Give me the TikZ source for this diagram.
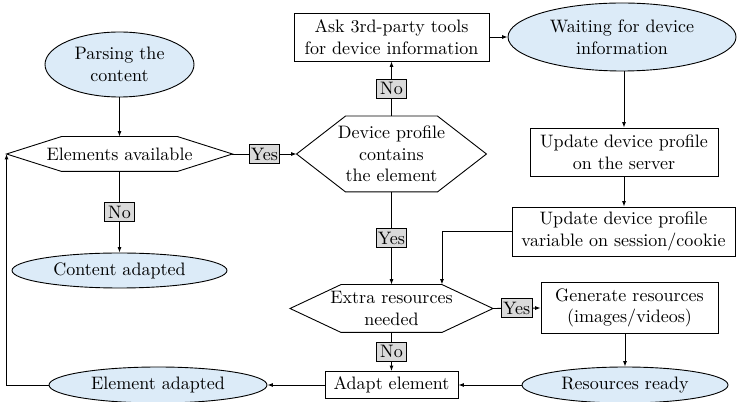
\documentclass[tikz,border=0pt]{standalone}
\usetikzlibrary{shapes.geometric,arrows.meta,calc}
\definecolor{ovalfill}{RGB}{220,235,248}
\definecolor{tagfill}{RGB}{218,218,218}

% outline of a decision hexagon around a (borderless) rectangle node
\newcommand\hexoutline[2]{%
  \draw (#1.west) -- ($(#1.north west)+(#2,0)$) -- ($(#1.north east)-(#2,0)$)
        -- (#1.east) -- ($(#1.south east)-(#2,0)$) -- ($(#1.south west)+(#2,0)$) -- cycle;}

\begin{document}
\begin{tikzpicture}[x=0.555pt,y=-0.555pt, line width=0.5pt,
  every node/.style={align=center, inner sep=0pt},
  oval/.style 2 args={ellipse, draw, fill=ovalfill,
    minimum width=#1*0.555pt, minimum height=#2*0.555pt},
  stepbox/.style 2 args={rectangle, draw,
    minimum width=#1*0.555pt, minimum height=#2*0.555pt},
  hexbox/.style 2 args={rectangle,
    minimum width=#1*0.555pt, minimum height=#2*0.555pt},
  tag/.style={draw, fill=tagfill, minimum width=17pt, minimum height=10.5pt, inner sep=0.6pt},
  flow/.style={-{Latex[length=3pt,width=2.2pt]}},
]
\useasboundingbox (0,0) rectangle (737,402);

% nodes
\node[oval={149}{65}]     (parse)   at (119.5,64.5) {Parsing the\\content};
\node[hexbox={225}{34}]   (elem)    at (119.5,154)  {Elements available};
\node[oval={215}{35}]     (cadapt)  at (119.5,270.5){Content adapted};
\node[hexbox={189}{75}]   (dev)     at (391.5,154)  {Device profile\\contains\\the element};
\node[stepbox={195}{48}]  (ask)     at (391.5,37)   {Ask 3rd-party tools\\for device information};
\node[oval={228}{68}]     (wait)    at (622,37)     {Waiting for device\\information};
\node[stepbox={188}{48}]  (server)  at (624,152)    {Update device profile\\on the server};
\node[stepbox={223}{49}]  (session) at (623.5,231.5){Update device profile\\variable on session/cookie};
\node[hexbox={202}{47}]   (extra)   at (391.5,308.5){Extra resources\\needed};
\node[stepbox={177}{51}]  (gen)     at (629.5,308)  {Generate resources\\(images/videos)};
\node[oval={206}{36}]     (ready)   at (625,385)    {Resources ready};
\node[stepbox={133}{27}]  (adapt)   at (391.5,385)  {Adapt element};
\node[oval={218}{36}]     (eadapt)  at (158,385)    {Element adapted};

\hexoutline{elem}{55}
\hexoutline{dev}{49}
\hexoutline{extra}{51}

\coordinate (extraNE) at ($(extra.north east)-(51,0)$);

% connectors
\draw[flow] (parse) -- (elem);
\draw[flow] (elem.east) -- node[tag]{Yes} (dev.west);
\draw[flow] (elem.south) -- node[tag]{No} (cadapt.north);
\draw[flow] (dev.north) -- node[tag]{No} (ask.south);
\draw[flow] (ask.east) -- (wait.west);
\draw[flow] (wait.south -| server.north) -- (server.north);
\draw[flow] (server.south) -- (server.south |- session.north);
\draw[flow] (session.west) -| (extraNE);
\draw[flow] (dev.south) -- node[tag]{Yes} (extra.north);
\draw[flow] (extra.east) -- node[tag]{Yes} (gen.west);
\draw[flow] (extra.south) -- node[tag]{No} (adapt.north);
\draw[flow] (gen.south -| ready.north) -- (ready.north);
\draw[flow] (ready.west) -- (adapt.east);
\draw[flow] (adapt.west) -- (eadapt.east);
\draw[flow] (eadapt.west) -| (elem.west);
\end{tikzpicture}
\end{document}
